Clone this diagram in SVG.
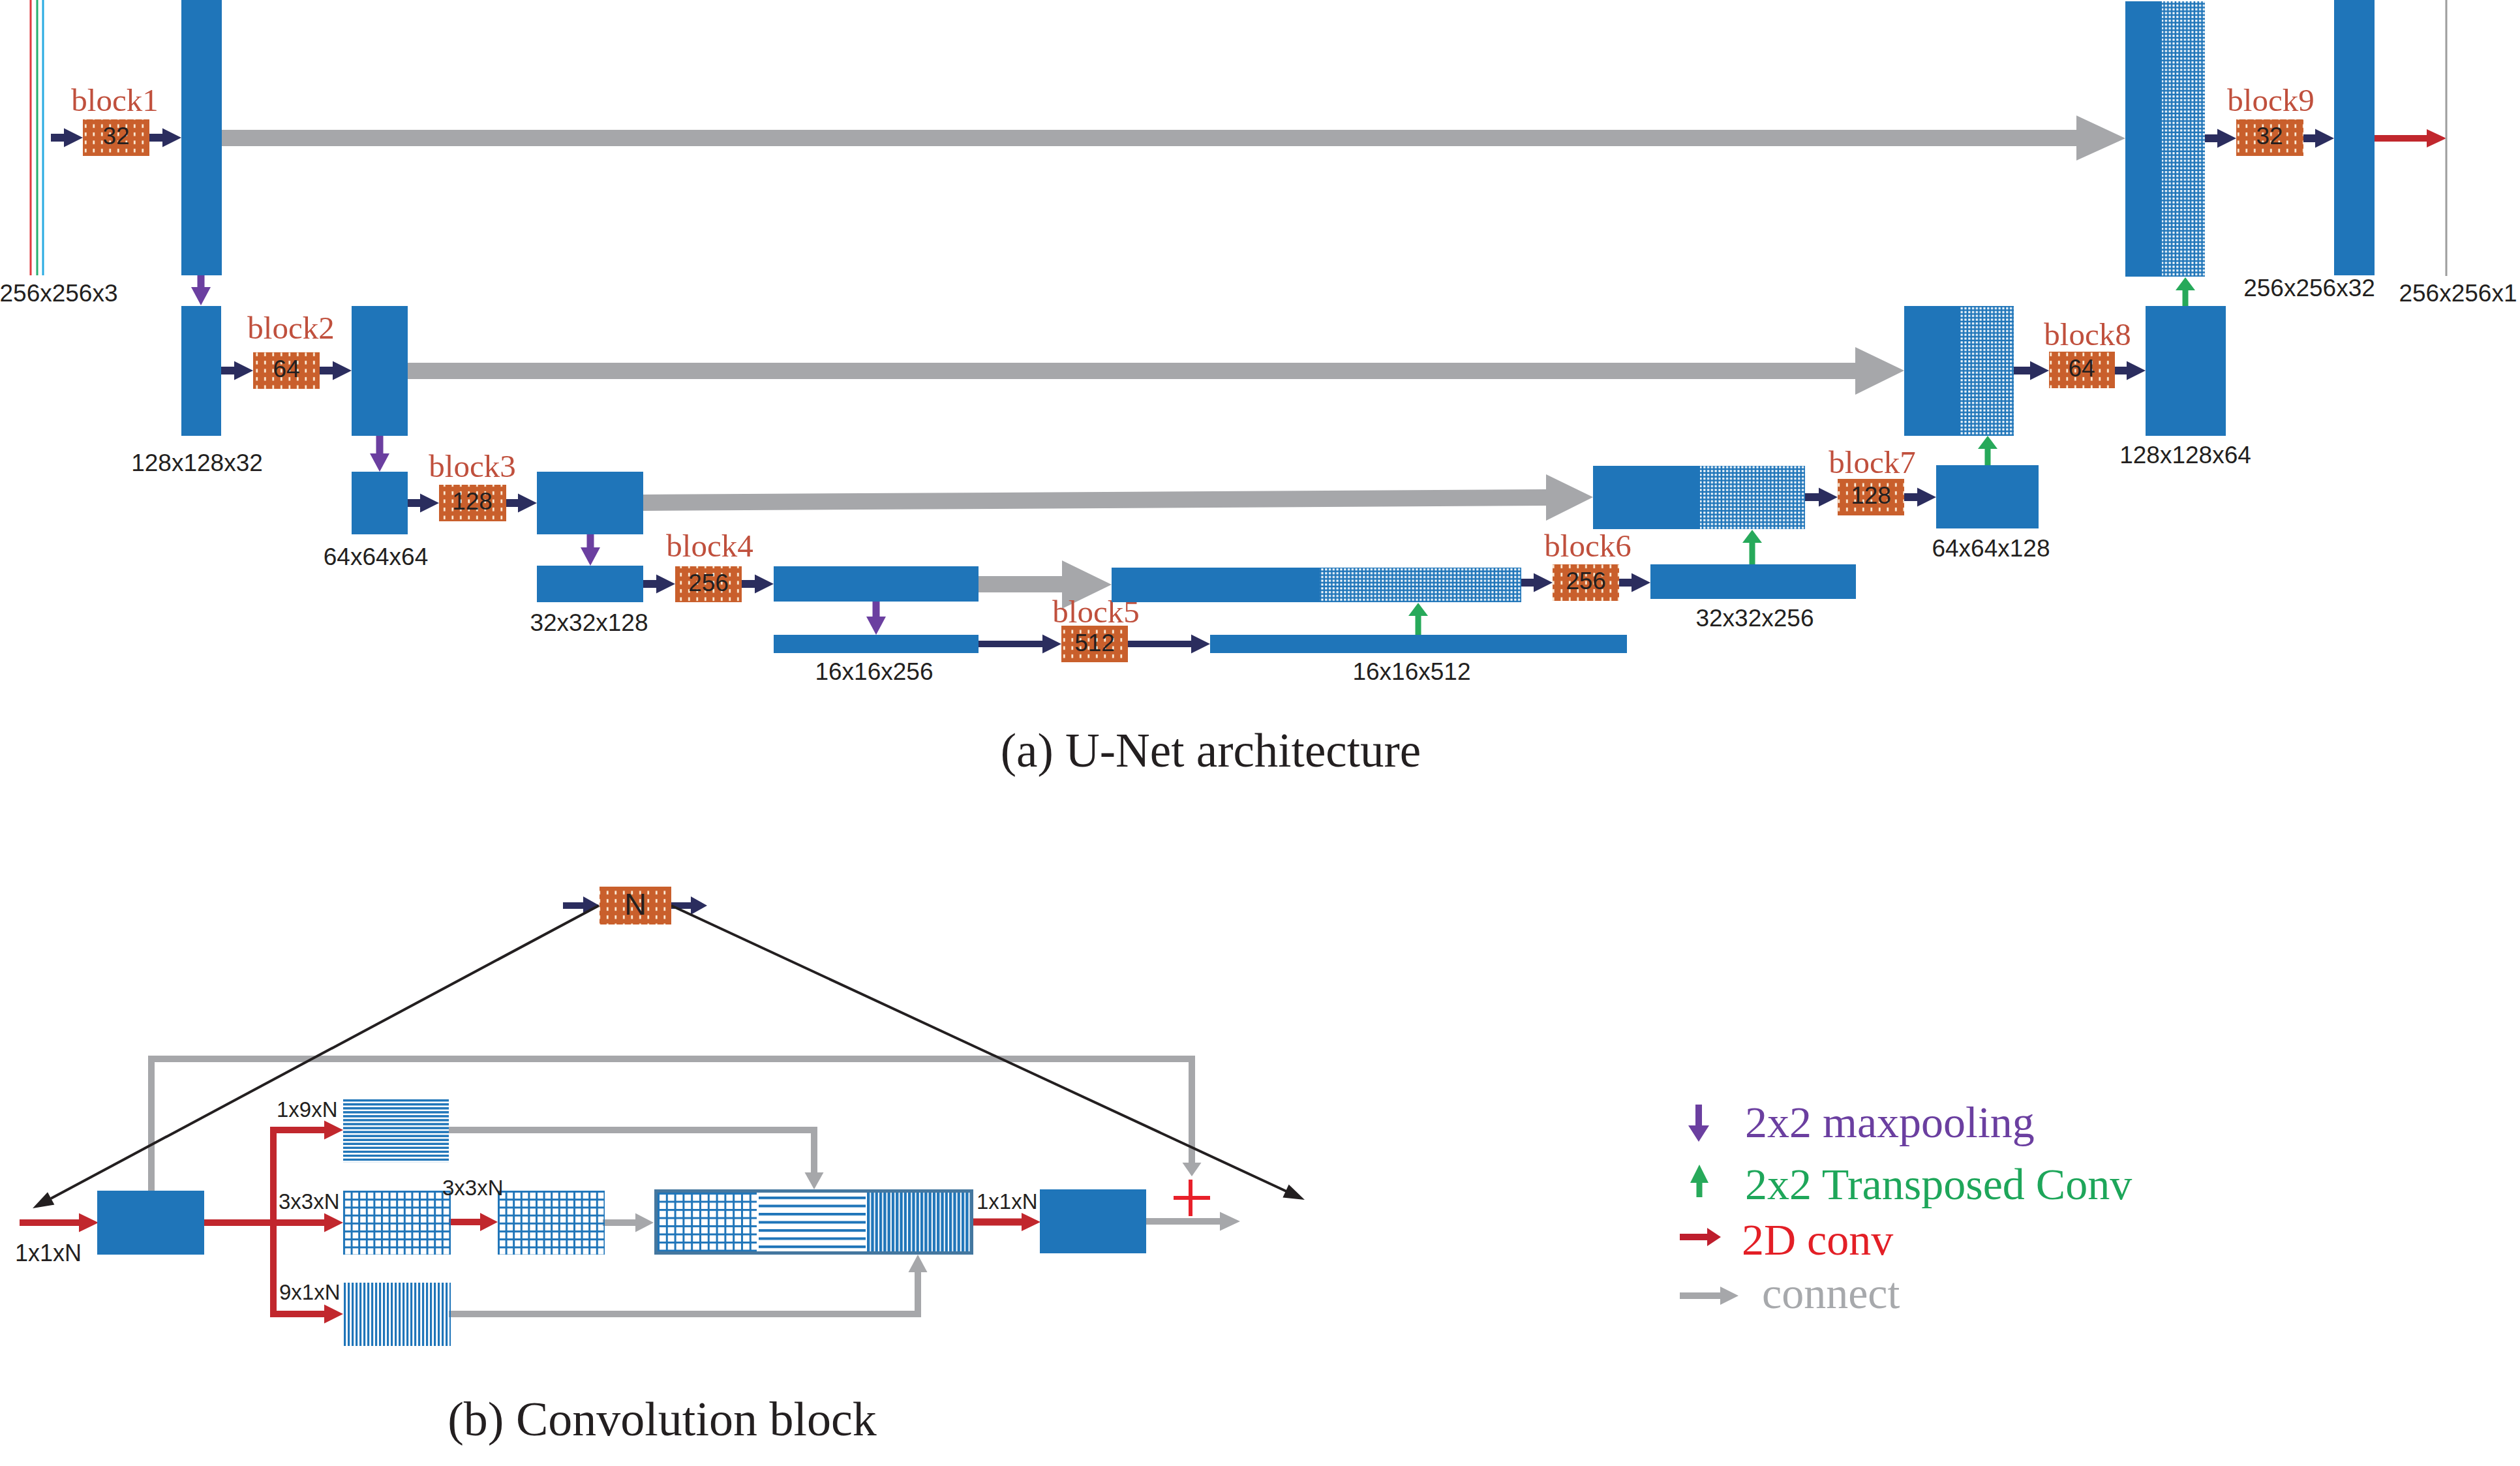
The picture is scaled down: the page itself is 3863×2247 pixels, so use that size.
<svg xmlns="http://www.w3.org/2000/svg" width="3863" height="2247" viewBox="0 0 3863 2247">
<style>
.bl{fill:#1f75b9}
.dt{fill:url(#pDot)}
.ob{fill:url(#pOr)}
.nv{fill:#2b2d5e}
.pu{fill:#6b3fa0}
.gr{fill:#27a95a}
.gy{fill:#a6a7aa}
.rd{fill:#c1272d}
.gl{fill:none;stroke:#a6a7aa;stroke-width:10;stroke-linejoin:miter}
.bk{stroke:#231f20;stroke-width:4;fill:none}
.dim{font-family:"Liberation Sans",Arial,sans-serif;font-size:37px;fill:#231f20;text-anchor:middle}
.num{font-family:"Liberation Sans",Arial,sans-serif;font-size:37px;fill:#231f20;text-anchor:middle}
.blk{font-family:"Liberation Serif","Times New Roman",serif;font-size:49px;fill:#c0503d;text-anchor:middle}
.sm{font-family:"Liberation Sans",Arial,sans-serif;font-size:33px;fill:#231f20}
.cap{font-family:"Liberation Serif","Times New Roman",serif;font-size:73px;fill:#231f20;text-anchor:middle}
.leg{font-family:"Liberation Serif","Times New Roman",serif;font-size:68px}
</style>
<defs>
<pattern id="pOr" patternUnits="userSpaceOnUse" width="12.5" height="12.5"><rect width="12.5" height="12.5" fill="#c95f2c"/><rect x="5" y="3" width="2.6" height="5.5" fill="#fff4e0"/></pattern>
<pattern id="pDot" patternUnits="userSpaceOnUse" width="5.8" height="5.8"><rect width="5.8" height="5.8" fill="#1f75b9"/><rect x="1.2" y="1.2" width="3.2" height="3.2" fill="#fff"/></pattern>
<pattern id="pH" patternUnits="userSpaceOnUse" width="8" height="6.05" y="1685"><rect width="8" height="3.4" fill="#1f75b9"/></pattern>
<pattern id="pV" patternUnits="userSpaceOnUse" width="6" height="8" x="527"><rect width="3.2" height="8" fill="#1f75b9"/></pattern>
<pattern id="pG" patternUnits="userSpaceOnUse" width="11.6" height="12.2" x="526" y="1825"><rect width="3" height="12.2" fill="#1f75b9"/><rect width="11.6" height="3" fill="#1f75b9"/></pattern>
<pattern id="pG2" patternUnits="userSpaceOnUse" width="11.6" height="12.2" x="763" y="1825"><rect width="3" height="12.2" fill="#1f75b9"/><rect width="11.6" height="3" fill="#1f75b9"/></pattern>
<pattern id="pCG" patternUnits="userSpaceOnUse" width="12.8" height="12.5" x="1008" y="1828"><rect width="3" height="12.5" fill="#1f75b9"/><rect width="12.8" height="3" fill="#1f75b9"/></pattern>
<pattern id="pCH" patternUnits="userSpaceOnUse" width="10" height="12.5" y="1834"><rect width="10" height="4" fill="#1f75b9"/></pattern>
<pattern id="pCV" patternUnits="userSpaceOnUse" width="6.3" height="10" x="1329"><rect width="4.3" height="10" fill="#1f75b9"/></pattern>
</defs>
<rect width="3863" height="2247" fill="#fff"/>

<g id="connectors">
<polygon class="gy" points="340,199 3183,199 3183,177 3258,212 3183,246 3183,224 340,224"/>
<polygon class="gy" points="625,556 2844,556 2844,532 2919,568 2844,605 2844,581 625,581"/>
<polygon class="gy" points="986,758 2370,750 2370,727 2442,762 2370,798 2370,775 986,783"/>
<polygon class="gy" points="1500,883 1628,883 1628,859 1704,896 1628,933 1628,908 1500,908"/>
<polygon class="nv" points="78,205 98,205 98,196.5 127,211 98,225.5 98,217 78,217"/>
<polygon class="nv" points="229,205 249,205 249,196.5 278,211 249,225.5 249,217 229,217"/>
<polygon class="nv" points="3380,206 3399,206 3399,197.5 3428,212 3399,226.5 3399,218 3380,218"/>
<polygon class="nv" points="3531,206 3549,206 3549,197.5 3578,212 3549,226.5 3549,218 3531,218"/>
<polygon class="nv" points="339,562 359,562 359,553.5 388,568 359,582.5 359,574 339,574"/>
<polygon class="nv" points="490,562 510,562 510,553.5 539,568 510,582.5 510,574 490,574"/>
<polygon class="nv" points="3087,562 3112,562 3112,553.5 3141,568 3112,582.5 3112,574 3087,574"/>
<polygon class="nv" points="3242,562 3260,562 3260,553.5 3289,568 3260,582.5 3260,574 3242,574"/>
<polygon class="nv" points="625,765 644,765 644,756.5 673,771 644,785.5 644,777 625,777"/>
<polygon class="nv" points="776,765 794,765 794,756.5 823,771 794,785.5 794,777 776,777"/>
<polygon class="nv" points="2767,756 2788,756 2788,747.5 2817,762 2788,776.5 2788,768 2767,768"/>
<polygon class="nv" points="2919,756 2939,756 2939,747.5 2968,762 2939,776.5 2939,768 2919,768"/>
<polygon class="nv" points="986,889 1006,889 1006,880.5 1035,895 1006,909.5 1006,901 986,901"/>
<polygon class="nv" points="1137,889 1157,889 1157,880.5 1186,895 1157,909.5 1157,901 1137,901"/>
<polygon class="nv" points="2332,887 2351,887 2351,878.5 2380,893 2351,907.5 2351,899 2332,899"/>
<polygon class="nv" points="2482,887 2501,887 2501,878.5 2530,893 2501,907.5 2501,899 2482,899"/>
<polygon class="nv" points="1500,982 1598,982 1598,972.5 1627,987 1598,1001.5 1598,992 1500,992"/>
<polygon class="nv" points="1729,982 1826,982 1826,972.5 1855,987 1826,1001.5 1826,992 1729,992"/>
<polygon class="pu" points="302.5,422 313.5,422 313.5,440 323,440 308,468 293,440 302.5,440"/>
<polygon class="pu" points="576.5,668 587.5,668 587.5,695 597,695 582,723 567,695 576.5,695"/>
<polygon class="pu" points="899.5,819 910.5,819 910.5,839 920,839 905,867 890,839 899.5,839"/>
<polygon class="pu" points="1337.5,922 1348.5,922 1348.5,945 1358,945 1343,973 1328,945 1337.5,945"/>
<polygon class="gr" points="2169.5,973 2178.5,973 2178.5,944 2189,944 2174,924 2159,944 2169.5,944"/>
<polygon class="gr" points="2681.5,865 2690.5,865 2690.5,832 2701,832 2686,812 2671,832 2681.5,832"/>
<polygon class="gr" points="3042.5,713 3051.5,713 3051.5,688 3062,688 3047,668 3032,688 3042.5,688"/>
<polygon class="gr" points="3345.5,469 3354.5,469 3354.5,445 3365,445 3350,425 3335,445 3345.5,445"/>
<polygon class="rd" points="3640,207 3720,207 3720,198 3750,212 3720,226 3720,217 3640,217"/>

<polygon class="nv" points="863,1383 894,1383 894,1374 919,1388 894,1402 894,1393 863,1393"/>
<polygon class="nv" points="1029,1383 1059,1383 1059,1374 1084,1388 1059,1402 1059,1393 1029,1393"/>
<path class="gl" d="M232,1825 V1623 H1827 V1782"/>
<polygon class="gy" points="1812.5,1782 1841.5,1782 1827,1803"/>
<path class="gl" d="M688,1732 H1248 V1797"/>
<polygon class="gy" points="1233.5,1797 1262.5,1797 1248,1823"/>
<path class="gl" d="M688,2014 H1407 V1950"/>
<polygon class="gy" points="1392.5,1950 1421.5,1950 1407,1923"/>
<polygon class="gy" points="924,1869 974,1869 974,1859.5 1002,1874 974,1888.5 974,1879 924,1879"/>
<polygon class="gy" points="1757,1867 1870,1867 1870,1857.5 1901,1872 1870,1886.5 1870,1877 1757,1877"/>
<polygon class="rd" points="30,1869 121,1869 121,1859.5 151,1874 121,1888.5 121,1879 30,1879"/>
<rect class="rd" x="414" y="1727" width="10" height="292"/>
<polygon class="rd" points="414,1727 497,1727 497,1717.5 526,1732 497,1746.5 497,1737 414,1737"/>
<polygon class="rd" points="313,1869 497,1869 497,1859.5 526,1874 497,1888.5 497,1879 313,1879"/>
<polygon class="rd" points="414,2009 497,2009 497,1999.5 526,2014 497,2028.5 497,2019 414,2019"/>
<polygon class="rd" points="688,1868 736,1868 736,1859 763,1873 736,1887 736,1878 688,1878"/>
<polygon class="rd" points="1489,1867.5 1566,1867.5 1566,1859 1595,1873 1566,1887 1566,1878.5 1489,1878.5"/>
<line class="bk" x1="918" y1="1388" x2="78" y2="1837"/>
<polygon fill="#231f20" points="50,1852 83.4,1846.6 73,1827.2"/>
<line class="bk" x1="1029" y1="1388" x2="1972" y2="1826"/>
<polygon fill="#231f20" points="2000,1839 1966.4,1835.5 1975.6,1815.5"/>
<g id="plus" stroke="#e8202a" stroke-width="6"><line x1="1825" y1="1808" x2="1825" y2="1864"/><line x1="1799" y1="1836" x2="1855" y2="1836"/></g>
</g>

<g id="input">
<rect x="45.5" y="0" width="3" height="422" fill="#e03a3e"/>
<rect x="55.5" y="0" width="3" height="422" fill="#26b06f"/>
<rect x="64.5" y="0" width="3" height="422" fill="#29abe2"/>
<text class="dim" x="90" y="462">256x256x3</text>
</g>
<g id="output">
<rect x="3748.5" y="0" width="3" height="423" fill="#9d9d9d"/>
<text class="dim" x="3768" y="462">256x256x1</text>
</g>

<g id="block1"><text class="blk" x="176" y="170">block1</text><rect class="ob" x="127" y="183" width="102" height="56"/><text class="num" x="178" y="221">32</text></g>
<g id="bar1"><rect class="bl" x="278" y="0" width="62" height="422"/></g>
<g id="bar2a"><rect class="bl" x="278" y="469" width="61" height="199"/><text class="dim" x="302" y="722">128x128x32</text></g>
<g id="block2"><text class="blk" x="446" y="519">block2</text><rect class="ob" x="388" y="540" width="102" height="56"/><text class="num" x="439" y="578">64</text></g>
<g id="bar2b"><rect class="bl" x="539" y="469" width="86" height="199"/></g>
<g id="bar3a"><rect class="bl" x="539" y="723" width="86" height="96"/><text class="dim" x="576" y="866">64x64x64</text></g>
<g id="block3"><text class="blk" x="724" y="731">block3</text><rect class="ob" x="673" y="743" width="103" height="56"/><text class="num" x="724" y="781">128</text></g>
<g id="bar3b"><rect class="bl" x="823" y="723" width="163" height="96"/></g>
<g id="bar4a"><rect class="bl" x="823" y="867" width="163" height="56"/><text class="dim" x="903" y="967">32x32x128</text></g>
<g id="block4"><text class="blk" x="1088" y="853">block4</text><rect class="ob" x="1035" y="868" width="102" height="55"/><text class="num" x="1086" y="906">256</text></g>
<g id="bar4b"><rect class="bl" x="1186" y="868" width="314" height="54"/></g>
<g id="bar5a"><rect class="bl" x="1186" y="973" width="314" height="28"/><text class="dim" x="1340" y="1042">16x16x256</text></g>
<g id="block5"><text class="blk" x="1680" y="954">block5</text><rect class="ob" x="1627" y="959" width="102" height="56"/><text class="num" x="1678" y="998">512</text></g>
<g id="bar5b"><rect class="bl" x="1855" y="973" width="639" height="28"/><text class="dim" x="2164" y="1042">16x16x512</text></g>
<g id="bar6a"><rect class="bl" x="1704" y="870" width="319" height="53"/><rect class="dt" x="2023" y="870" width="309" height="53"/></g>
<g id="block6"><text class="blk" x="2434" y="853">block6</text><rect class="ob" x="2380" y="865" width="102" height="56"/><text class="num" x="2431" y="903">256</text></g>
<g id="bar6b"><rect class="bl" x="2530" y="865" width="315" height="53"/><text class="dim" x="2690" y="960">32x32x256</text></g>
<g id="bar7a"><rect class="bl" x="2442" y="714" width="164" height="97"/><rect class="dt" x="2606" y="714" width="161" height="97"/></g>
<g id="block7"><text class="blk" x="2870" y="725">block7</text><rect class="ob" x="2817" y="734" width="102" height="56"/><text class="num" x="2868" y="772">128</text></g>
<g id="bar7b"><rect class="bl" x="2968" y="713" width="157" height="97"/><text class="dim" x="3052" y="853">64x64x128</text></g>
<g id="bar8a"><rect class="bl" x="2919" y="469" width="86" height="199"/><rect class="dt" x="3005" y="469" width="82" height="199"/></g>
<g id="block8"><text class="blk" x="3200" y="529">block8</text><rect class="ob" x="3141" y="539" width="101" height="56"/><text class="num" x="3191" y="577">64</text></g>
<g id="bar8b"><rect class="bl" x="3289" y="469" width="123" height="199"/><text class="dim" x="3350" y="710">128x128x64</text></g>
<g id="bar9a"><rect class="bl" x="3258" y="2" width="56" height="422"/><rect class="dt" x="3314" y="2" width="66" height="422"/></g>
<g id="block9"><text class="blk" x="3481" y="170">block9</text><rect class="ob" x="3428" y="183" width="103" height="56"/><text class="num" x="3479" y="221">32</text></g>
<g id="bar9b"><rect class="bl" x="3578" y="0" width="62" height="422"/><text class="dim" x="3540" y="454">256x256x32</text></g>
<g id="caption-a"><text class="cap" x="1856" y="1175">(a) U-Net architecture</text></g>

<g id="blockN"><rect class="ob" x="919" y="1359" width="110" height="58"/><text x="974" y="1402" font-family="'Liberation Sans',Arial,sans-serif" font-size="47" fill="#231f20" text-anchor="middle">N</text></g>
<g id="inbox"><rect class="bl" x="149" y="1825" width="164" height="98"/><text class="sm" x="23" y="1933" style="font-size:36px">1x1xN</text></g>
<g id="conv1x9"><rect fill="url(#pH)" x="526" y="1685" width="162" height="97"/><text class="sm" x="424" y="1712">1x9xN</text></g>
<g id="conv3x3a"><rect fill="url(#pG)" x="526" y="1825" width="165" height="98"/><text class="sm" x="427" y="1853">3x3xN</text></g>
<g id="conv3x3b"><rect fill="url(#pG2)" x="763" y="1825" width="164" height="98"/><text class="sm" x="678" y="1832">3x3xN</text></g>
<g id="conv9x1"><rect fill="url(#pV)" x="527" y="1966" width="164" height="97"/><text class="sm" x="428" y="1992">9x1xN</text></g>
<g id="concat"><rect x="1003" y="1823" width="489" height="100" fill="#44779f"/><rect x="1008" y="1828" width="479" height="90" fill="#fff"/><rect fill="url(#pCG)" x="1008" y="1828" width="152" height="90"/><rect fill="url(#pCH)" x="1163" y="1828" width="164" height="90"/><rect fill="url(#pCV)" x="1329" y="1828" width="158" height="90"/></g>
<g id="outbox"><rect class="bl" x="1594" y="1823" width="163" height="98"/><text class="sm" x="1497" y="1853">1x1xN</text></g>
<g id="caption-b"><text class="cap" x="1015" y="2200" style="font-size:74px">(b) Convolution block</text></g>

<g id="legend">
<polygon class="pu" points="2599,1693 2609,1693 2609,1725 2620,1725 2604,1750 2588,1725 2599,1725"/>
<text class="leg" x="2675" y="1743" fill="#6b3fa0">2x2 maxpooling</text>
<polygon class="gr" points="2600.5,1835 2609.5,1835 2609.5,1813 2619,1813 2605,1785 2591,1813 2600.5,1813"/>
<text class="leg" x="2675" y="1838" fill="#1ea65a">2x2 Transposed Conv</text>
<polygon fill="#be1e2d" points="2575,1891 2617,1891 2617,1882 2638,1896 2617,1910 2617,1901 2575,1901"/>
<text class="leg" x="2670" y="1923" fill="#e31f26">2D conv</text>
<polygon class="gy" points="2575,1981 2637,1981 2637,1972 2665,1986 2637,2000 2637,1991 2575,1991"/>
<text class="leg" x="2701" y="2005" fill="#a7a9ac">connect</text>
</g>
</svg>
